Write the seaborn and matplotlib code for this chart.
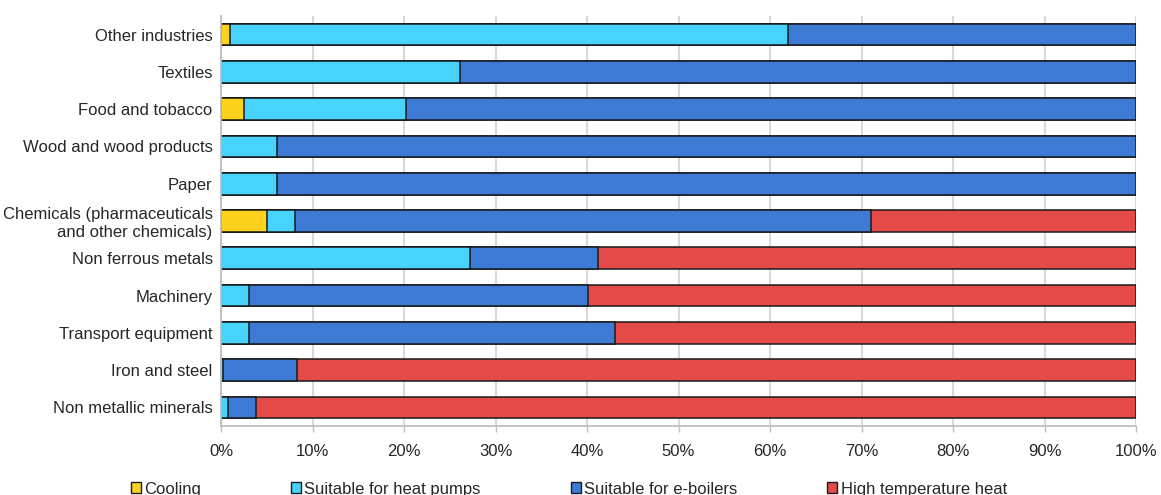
import matplotlib
matplotlib.use("Agg")
import pandas as pd
import numpy as np
import seaborn as sns
import matplotlib.pyplot as plt
from matplotlib.patches import Patch

industries = ["Other industries", "Textiles", "Food and tobacco", "Wood and wood products",
              "Paper", "Chemicals (pharmaceuticals\nand other chemicals)", "Non ferrous metals",
              "Machinery", "Transport equipment", "Iron and steel", "Non metallic minerals"]

# shares in %
cooling    = [1.0, 0.0, 2.5, 0.0, 0.0, 5.0, 0.0, 0.0, 0.0, 0.0, 0.0]
heat_pumps = [61.0, 26.1, 17.7, 6.1, 6.1, 3.1, 27.2, 3.1, 3.1, 0.2, 0.8]
e_boilers  = [38.0, 73.9, 79.8, 93.9, 93.9, 62.9, 14.0, 37.0, 40.0, 8.1, 3.0]
high_temp  = [0.0, 0.0, 0.0, 0.0, 0.0, 29.0, 58.8, 59.9, 56.9, 91.7, 96.2]

series = ["Cooling", "Suitable for heat pumps", "Suitable for e-boilers", "High temperature heat"]
colors = ["#FCD21F", "#48D3FD", "#3D7AD3", "#E44A47"]

sns.set_theme(style="white")
plt.rcParams["font.family"] = ["Liberation Sans", "DejaVu Sans"]

df = pd.DataFrame({"industry": industries})
df["c1"] = cooling
df["c2"] = df["c1"] + np.array(heat_pumps)
df["c3"] = df["c2"] + np.array(e_boilers)
df["c4"] = df["c3"] + np.array(high_temp)

fig = plt.figure(figsize=(11.61, 4.95), dpi=100)
ax = fig.add_axes([0.1904, 0.1394, 0.7881, 0.8283])

# draw cumulative bars from longest to shortest so they look stacked
for col, c in zip(["c4", "c3", "c2", "c1"], colors[::-1]):
    sns.barplot(data=df, x=col, y="industry", orient="h", color=c, saturation=1,
                width=0.58, edgecolor="#1a1a1a", linewidth=1.1, ax=ax)

for p in ax.patches:
    if p.get_width() <= 0:
        p.set_visible(False)

ax.set_xlim(0, 100)
ax.set_xticks(np.arange(0, 101, 10))
ax.set_xticklabels([f"{v}%" for v in range(0, 101, 10)])
ax.set_xlabel("")
ax.set_ylabel("")
ax.xaxis.grid(True, color="#D9D9D9", linewidth=1.5)
ax.set_axisbelow(True)
for s in ["top", "right"]:
    ax.spines[s].set_visible(False)
for s in ["left", "bottom"]:
    ax.spines[s].set_color("#BFBFBF")
    ax.spines[s].set_linewidth(1.3)
ax.tick_params(axis="y", length=0, pad=6, labelsize=12, colors="#262626")
ax.tick_params(axis="x", bottom=True, length=4, width=1, color="#BFBFBF", pad=9,
               labelsize=12, labelcolor="#262626")

handles = [Patch(facecolor=c, edgecolor="#1a1a1a", linewidth=1) for c in colors]
fig.legend(handles, series, loc="center", bbox_to_anchor=(0.49, 0.012), ncol=4,
           frameon=False, handlelength=0.6, handleheight=0.6, handletextpad=0.2,
           columnspacing=5.4, fontsize=12)

fig.savefig("out.png", dpi=100)
